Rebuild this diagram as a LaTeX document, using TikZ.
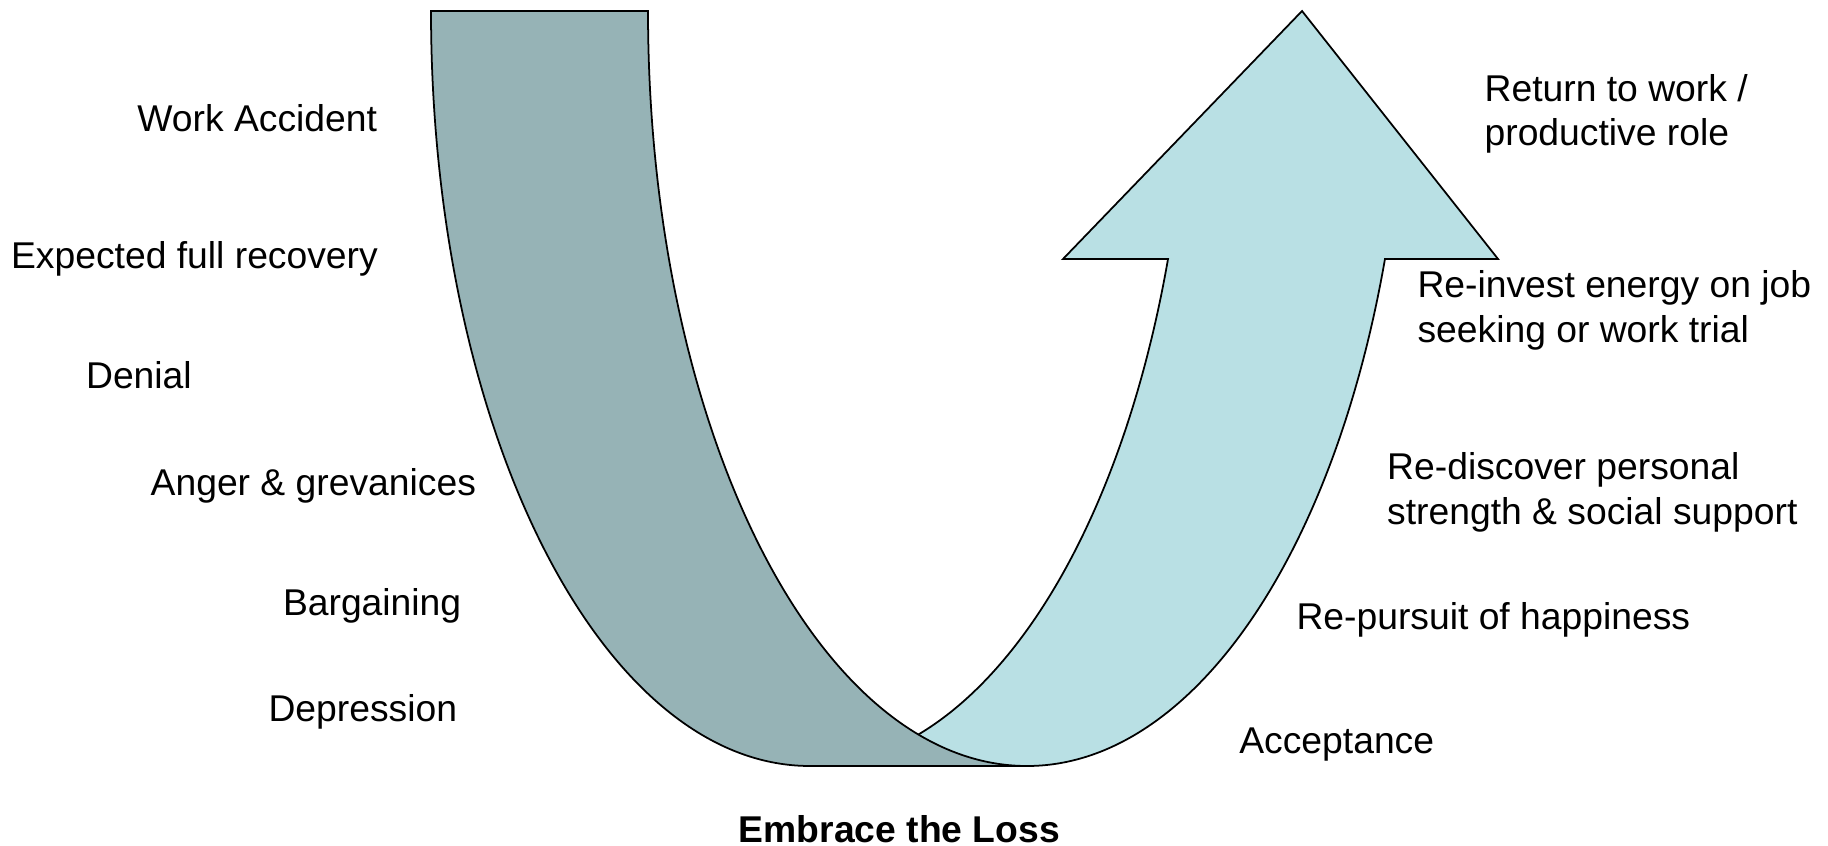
\documentclass[tikz,border=0pt]{standalone}
\usepackage{fontspec}
\setmainfont{Liberation Sans}
\definecolor{lossband}{RGB}{150,179,182}
\definecolor{gainband}{RGB}{185,224,228}

\begin{document}
\begin{tikzpicture}[
    x=0.01cm, y=0.01cm,
    band/.style={draw=black,line width=0.5pt},
    stage/.style={anchor=base west,inner sep=0pt,align=left,
        font=\fontsize{10.6}{12.7}\selectfont},
    every node/.style={text=black}]
    \useasboundingbox (0,0) rectangle (1828,845);

    % Rising arrow (drawn first, the falling band lies over it).
    \path[band,fill=gainband] (810,79) -- (1027,79)
        arc[start angle=270,end angle=340.82,x radius=379,y radius=755]
        -- (1498,586) -- (1302,834) -- (1063,586) -- (1168,586)
        arc[start angle=340.82,end angle=270,x radius=379,y radius=755]
        -- cycle;

    % Falling band.
    \path[band,fill=lossband] (431,834)
        arc[start angle=180,end angle=270,x radius=379,y radius=755]
        -- (1027,79)
        arc[start angle=270,end angle=180,x radius=379,y radius=755]
        -- cycle;

    % Stages on the way down.
    \node[stage] (accident) at (136.7,713) {Work Accident};
    \node[stage] (recovery) at (10.4,576.7) {Expected full recovery};
    \node[stage] (denial) at (85.4,456) {Denial};
    \node[stage] (anger) at (150,350) {Anger \& grevanices};
    \node[stage] (bargain) at (282.3,229.3) {Bargaining};
    \node[stage] (depress) at (267.8,123.3) {Depression};

    % Stages on the way up (base = last line).
    \node[stage] (accept) at (1238.6,91.8) {Acceptance};
    \node[stage] (pursuit) at (1295.8,215.8) {Re-pursuit of happiness};
    \node[stage] (discover) at (1386.5,320.7)
        {Re-discover personal\\strength \& social support};
    \node[stage] (reinvest) at (1416.8,502.4)
        {Re-invest energy on job\\seeking or work trial};
    \node[stage] (backwork) at (1483.9,699.3)
        {Return to work /\\productive role};

    \node[anchor=base,inner sep=0pt,font=\fontsize{10.6}{12.7}\selectfont\bfseries]
        (title) at (899.4,3) {Embrace the Loss};
\end{tikzpicture}
\end{document}
